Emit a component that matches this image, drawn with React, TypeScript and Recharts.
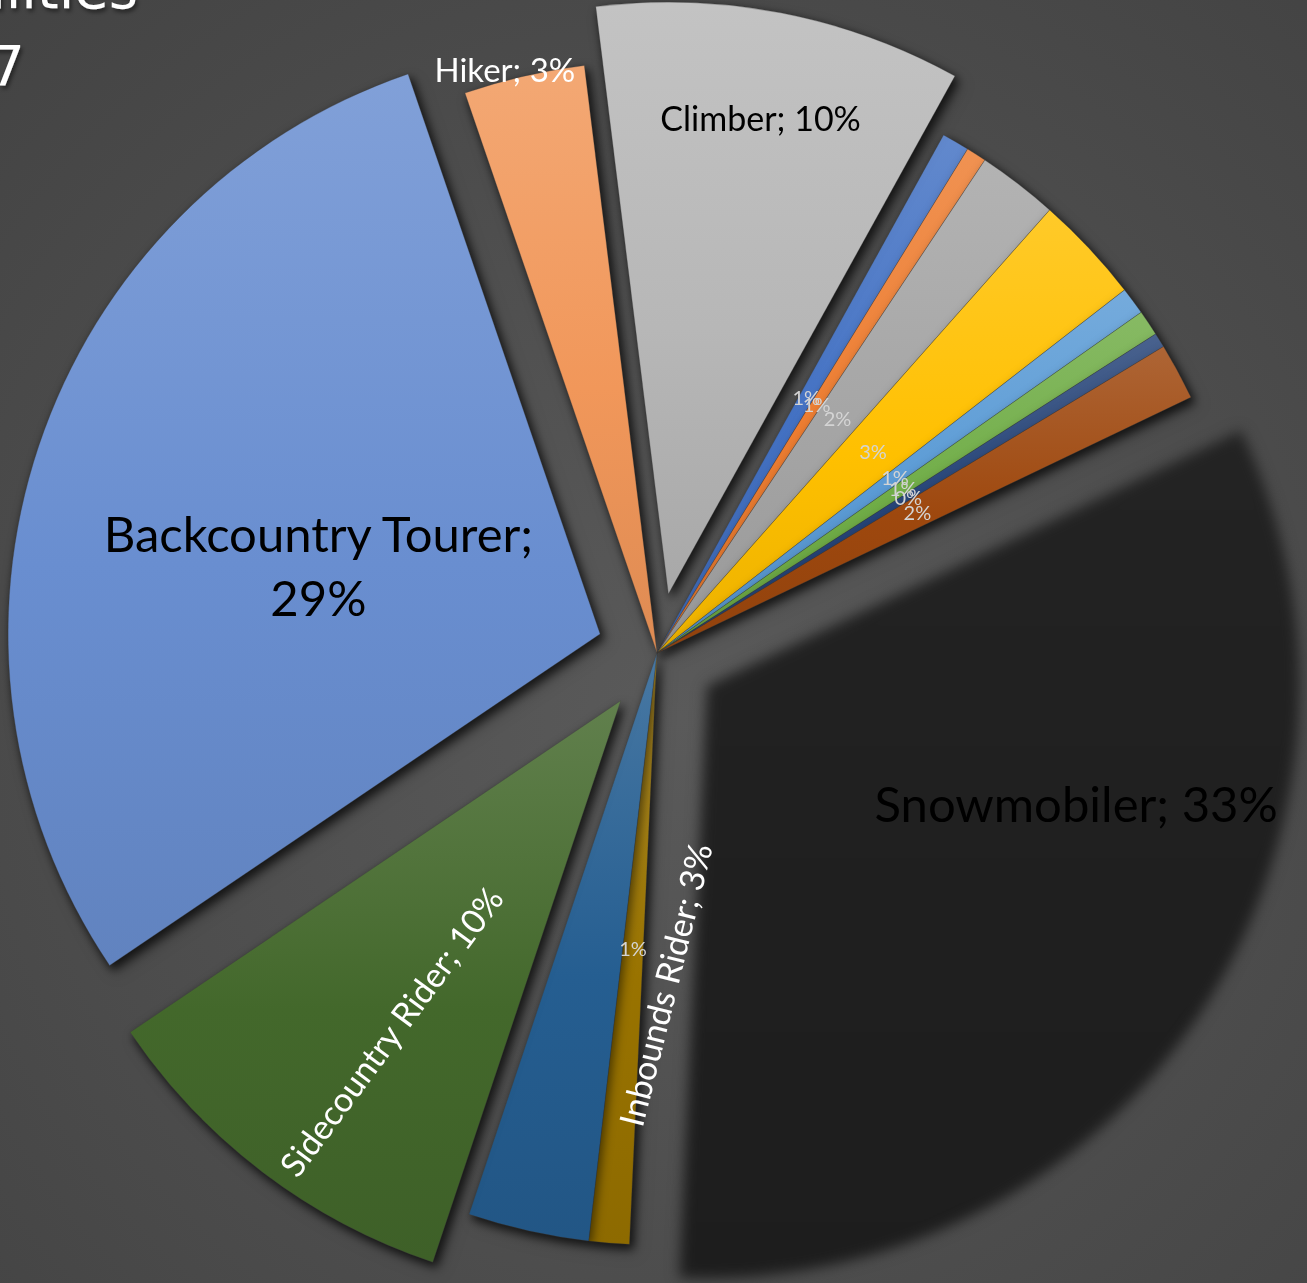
import React from "react";
import { PieChart, Pie, Cell } from "recharts";

// slices clockwise, starting just right of the Climber slice
const activities = [
  "Activity 1",
  "Activity 2",
  "Activity 3",
  "Activity 4",
  "Activity 5",
  "Activity 6",
  "Activity 7",
  "Activity 8",
  "Snowmobiler",
  "Activity 10",
  "Inbounds Rider",
  "Sidecountry Rider",
  "Backcountry Tourer",
  "Hiker",
  "Climber",
];
const shares = [0.75, 0.55, 2.2, 2.95, 0.75, 0.7, 0.4, 1.55, 32.85, 1.1, 3.3, 10.4, 29.2, 3.3, 10.0];
const sliceColors = [
  "#4472C4", "#ED7D31", "#A5A5A5", "#FFC000", "#5B9BD5", "#70AD47", "#264478", "#9E480E",
  "#1f1f1f", "#997300", "#255E91", "#43682B", "#698ED0", "#F1975A", "#B7B7B7",
];
const explodedSlices = [8, 11, 12, 14];
const titleLines = ["Avalanche Fatalities", "2016-2017"];

const CX = 657;
const CY = 653;
const R = 592;
const EXPLODE = 60;
const FIRST_CW = 28.95; // first slice starts this many degrees clockwise from 12 o'clock
const RAD = Math.PI / 180;
const FONT = "Lato, 'Open Sans', sans-serif";

type LabelStyle = { r: number; shift: number; size: number; color: string; named?: boolean; rotate?: number; wrap?: boolean };
const smallLabel: LabelStyle = { r: 0.5, shift: 0, size: 20, color: "#d4d4d4" };
const labelStyles: Record<number, LabelStyle> = {
  8: { r: 0.654, shift: -16, size: 49, color: "#000", named: true },
  10: { r: 0.56, shift: -13.8, size: 34, color: "#fff", named: true, rotate: -76 },
  11: { r: 0.68, shift: -2.3, size: 34, color: "#fff", named: true, rotate: -53.5 },
  12: { r: 0.49, shift: -4.7, size: 49, color: "#000", named: true, wrap: true },
  13: { r: 1.02, shift: -1.6, size: 33, color: "#fff", named: true },
  14: { r: 0.82, shift: 0, size: 34, color: "#000", named: true },
};

function shade(hex: string, amt: number) {
  const n = parseInt(hex.slice(1), 16);
  const ch = [(n >> 16) & 255, (n >> 8) & 255, n & 255].map((c) =>
    Math.round(amt >= 0 ? c + (255 - c) * amt : c * (1 + amt))
  );
  return "#" + ch.map((c) => c.toString(16).padStart(2, "0")).join("");
}

const makeLabel = (show: (i: number) => boolean) => (p: any) => {
  if (!show(p.index)) return null;
  const st = labelStyles[p.index] ?? smallLabel;
  const ang = (p.midAngle - st.shift) * RAD;
  const r = p.outerRadius * st.r;
  const x = p.cx + r * Math.cos(ang);
  const y = p.cy - r * Math.sin(ang);
  const pct = Math.round(p.percent * 100);
  const name = activities[p.index];
  const lines = st.wrap ? [`${name};`, `${pct}%`] : [st.named ? `${name}; ${pct}%` : `${pct}%`];
  const lh = st.size * 1.3;
  return (
    <text
      x={x}
      y={y}
      fill={st.color}
      fontSize={st.size}
      fontFamily={FONT}
      textAnchor="middle"
      dominantBaseline="central"
      transform={st.rotate ? `rotate(${st.rotate} ${x} ${y})` : undefined}
    >
      {lines.map((l, k) => (
        <tspan key={k} x={x} dy={k === 0 ? -((lines.length - 1) / 2) * lh : lh}>
          {l}
        </tspan>
      ))}
    </text>
  );
};

export default function App() {
  const rows = activities.map((name, i) => ({ name, value: shares[i] }));
  const total = shares.reduce((a, b) => a + b, 0);
  const midCW = (i: number) => {
    const before = shares.slice(0, i).reduce((a, b) => a + b, 0);
    return FIRST_CW + ((before + shares[i] / 2) / total) * 360;
  };

  const layers = [
    { key: "base", show: (i: number) => !explodedSlices.includes(i), cx: CX, cy: CY },
    ...explodedSlices.map((e) => ({
      key: "x" + e,
      show: (i: number) => i === e,
      cx: CX + EXPLODE * Math.sin(midCW(e) * RAD),
      cy: CY - EXPLODE * Math.cos(midCW(e) * RAD),
    })),
  ];

  const pieCommon = {
    data: rows,
    dataKey: "value",
    nameKey: "name",
    outerRadius: R,
    startAngle: 90 - FIRST_CW,
    endAngle: 90 - FIRST_CW - 360,
    stroke: "none",
    labelLine: false,
    isAnimationActive: false,
  };

  return (
    <div
      style={{
        position: "absolute",
        left: 0,
        top: 0,
        width: 1307,
        height: 1283,
        overflow: "hidden",
        background: "radial-gradient(circle at 52% 56%, #5a5a5a 0%, #515151 40%, #434343 100%)",
      }}
    >
      <style>{`
        .pie-base, .pie-x11, .pie-x12, .pie-x14 { filter: drop-shadow(3px 4px 5px rgba(0,0,0,0.5)); }
        .pie-x8 { filter: blur(5px); }
      `}</style>
      <svg width={1307} height={1283} style={{ position: "absolute", left: 0, top: 0 }}>
        <defs>
          {sliceColors.map((c, i) => (
            <linearGradient key={i} id={`slice${i}`} x1="0" y1="0" x2="0" y2="1">
              <stop offset="0%" stopColor={shade(c, i === 8 ? 0.02 : 0.16)} />
              <stop offset="55%" stopColor={c} />
              <stop offset="100%" stopColor={shade(c, -0.08)} />
            </linearGradient>
          ))}
          <filter id="titleShadow" x="-10%" y="-30%" width="120%" height="160%">
            <feDropShadow dx="2" dy="3" stdDeviation="2" floodColor="#000" floodOpacity="0.5" />
          </filter>
        </defs>
        <g fill="#fff" fontFamily="'DejaVu Sans', sans-serif" fontWeight={400} fontSize={56} textAnchor="end" filter="url(#titleShadow)">
          <text x={138} y={8}>{titleLines[0]}</text>
          <text x={25} y={85}>{titleLines[1]}</text>
        </g>
      </svg>
      <div style={{ position: "absolute", left: 0, top: 0 }}>
        <PieChart width={1307} height={1283} margin={{ top: 0, right: 0, bottom: 0, left: 0 }}>
          {layers.map((ly) => (
            <Pie key={ly.key} className={`pie-${ly.key}`} {...pieCommon} cx={ly.cx} cy={ly.cy} label={false}>
              {rows.map((_, i) => (
                <Cell
                  key={i}
                  fill={ly.show(i) ? `url(#slice${i})` : "none"}
                  stroke={ly.show(i) && i !== 8 ? "rgba(60,60,60,0.5)" : "none"}
                  strokeWidth={0.6}
                />
              ))}
            </Pie>
          ))}
          {layers.map((ly) => (
            <Pie key={"lbl-" + ly.key} {...pieCommon} cx={ly.cx} cy={ly.cy} label={makeLabel(ly.show)}>
              {rows.map((_, i) => (
                <Cell key={i} fill="none" />
              ))}
            </Pie>
          ))}
        </PieChart>
      </div>
    </div>
  );
}
